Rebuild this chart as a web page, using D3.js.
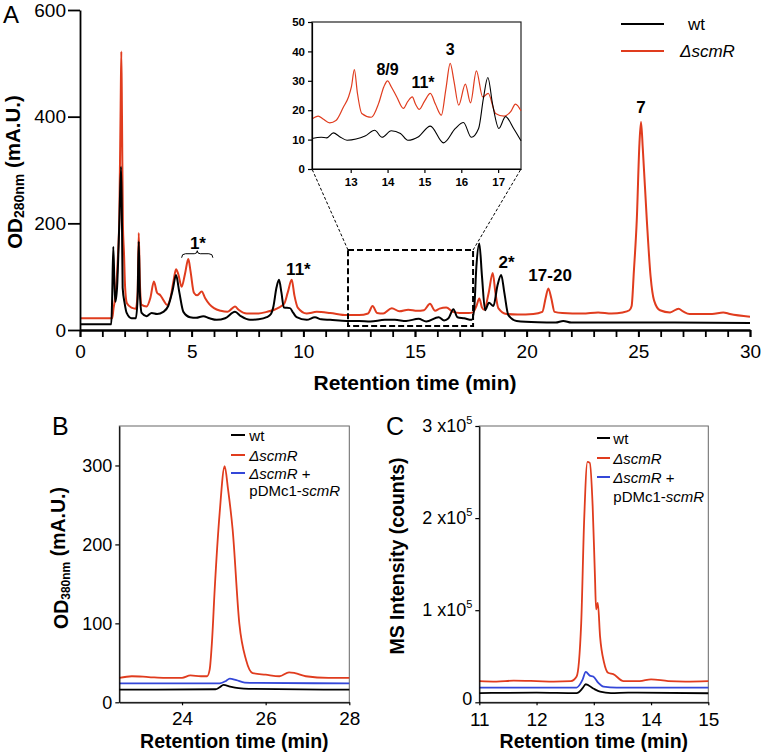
<!DOCTYPE html>
<html><head><meta charset="utf-8">
<script src="https://cdn.jsdelivr.net/npm/d3@7"></script>
<style>body{margin:0;background:#fff}svg{display:block}text{font-family:Arial,"Liberation Sans",sans-serif}</style>
</head><body><svg id="c" width="762" height="756"></svg>
<script>
// ---------- DATA ----------
// Panel A, OD280 chromatogram [time (min), mA.U.]
const aScmR = [[0,22],[1.44,22],[1.5,40],[1.6,70],[1.7,140],[1.76,210],[1.82,420],[1.85,522],[1.88,400],[1.92,200],[1.97,144],[2.02,80],[2.1,50],[2.3,42],[2.5,40],[2.58,70],[2.63,182],[2.68,90],[2.76,47],[2.98,44],[3.15,60],[3.31,91],[3.45,70],[3.6,65],[3.75,55],[3.9,47],[4.05,60],[4.2,95],[4.3,114],[4.4,105],[4.55,81],[4.7,105],[4.85,133],[4.95,110],[5.1,70],[5.25,65],[5.45,72],[5.6,60],[5.8,48],[6.0,41],[6.3,36],[6.6,34],[6.8,40],[6.94,44],[7.1,38],[7.47,31],[8.0,31],[8.36,34],[8.7,38],[8.9,42],[9.15,50],[9.3,70],[9.48,94],[9.6,65],[9.75,42],[10.15,31],[10.6,34],[11.2,32],[11.94,28],[12.5,28],[12.9,31],[13.1,45],[13.3,32],[13.58,31],[13.96,41],[14.3,35],[14.7,38],[15.1,36],[15.4,37],[15.67,49],[15.9,36],[16.1,40],[16.4,42],[16.7,34],[17.0,32],[17.4,32],[17.6,33],[17.75,45],[17.88,59],[18.0,42],[18.1,38],[18.3,70],[18.48,107],[18.6,70],[18.73,41],[19.1,30],[19.6,29],[20.3,30],[20.7,34],[20.85,60],[20.97,78],[21.1,60],[21.25,34],[21.6,32],[22.5,31],[23.2,33],[23.8,31],[24.3,33],[24.6,37],[24.7,45],[24.8,110],[24.93,206],[25.05,350],[25.12,390],[25.2,340],[25.38,206],[25.55,100],[25.7,56],[25.97,37],[26.42,33],[26.8,40],[27.0,35],[27.3,30],[28.3,30],[28.8,33],[29.1,30],[30,25]];
const aWt = [[0,11],[1.4,11],[1.44,60],[1.49,156],[1.54,90],[1.58,53],[1.66,80],[1.76,200],[1.84,306],[1.88,200],[1.91,79],[2.0,50],[2.09,32],[2.31,22],[2.5,22],[2.58,60],[2.63,166],[2.68,70],[2.76,32],[2.98,26],[3.21,32],[3.45,30],[3.73,34],[3.95,45],[4.15,75],[4.3,103],[4.45,70],[4.63,34],[4.93,24],[5.2,23],[5.52,26],[5.8,22],[6.12,19],[6.5,22],[6.94,34],[7.2,26],[7.61,19],[8.0,20],[8.36,24],[8.55,30],[8.66,44],[8.8,80],[8.91,94],[9.02,70],[9.13,42],[9.4,41],[9.55,32],[9.7,24],[10.15,19],[10.52,24],[10.8,20],[11.2,19],[11.94,17],[12.5,17],[13.0,16],[13.65,19],[14.1,19],[14.6,17],[15.16,21],[15.5,16],[16.06,24],[16.3,18],[16.5,22],[16.72,39],[16.9,24],[17.2,22],[17.54,19],[17.65,40],[17.75,120],[17.88,162],[18.0,100],[18.14,37],[18.31,51],[18.51,45],[18.7,85],[18.86,103],[19.0,70],[19.18,28],[19.55,17],[20.5,14.5],[21.3,14],[21.64,17],[22.0,14],[25.0,14],[30,13]];
// Panel A inset
const insetScmR = [[11.95,17],[12.12,18],[12.25,17],[12.43,15.7],[12.6,16.5],[12.8,21],[12.94,24.5],[13.02,28],[13.1,33.8],[13.18,26],[13.3,18.9],[13.56,17.6],[13.76,22.4],[13.9,28],[14.0,30],[14.1,28],[14.25,24.5],[14.43,20.6],[14.55,23],[14.67,24.5],[14.76,22],[14.86,20.3],[15.0,23],[15.16,25.7],[15.3,22],[15.46,18.3],[15.58,27],[15.7,35.9],[15.8,30],[15.93,21.7],[16.11,28.9],[16.25,22.5],[16.41,33.4],[16.58,24.5],[16.73,25.7],[16.93,18.9],[17.16,18],[17.34,19.5],[17.47,22.1],[17.62,19.8]];
const insetWt = [[11.95,10.4],[12.2,10.8],[12.35,10.6],[12.53,12.3],[12.7,11],[12.9,9.8],[13.39,11.2],[13.65,13.2],[13.85,10.8],[14.1,13],[14.35,12.1],[14.55,9.8],[14.84,11],[15.16,14.6],[15.52,8.9],[15.84,13.8],[16.06,15.8],[16.27,10.8],[16.47,13.8],[16.6,24],[16.72,31.1],[16.85,22],[17.02,13.8],[17.2,17.8],[17.42,13.8],[17.62,9.6]];
// Panel B, OD380
const bScmR = [[22.5,31],[22.8,33],[23.2,32],[23.6,31],[24.0,31],[24.2,34],[24.45,33],[24.6,33],[24.66,41],[24.72,80],[24.78,142],[24.9,240],[25.02,299],[25.1,270],[25.21,219],[25.37,100],[25.53,54],[25.69,37],[26.0,35],[26.33,33],[26.56,38],[26.7,37],[26.96,33],[27.5,31],[28,31]];
const bComp = [[22.5,24],[24.9,24],[25.05,27],[25.14,30],[25.3,28],[25.5,25],[25.8,24.5],[28,24]];
const bWt = [[22.5,16],[24.8,16.5],[24.9,19],[24.99,22],[25.15,20],[25.35,18],[25.6,17],[28,16]];
// Panel C, MS intensity
const cScmR = [[11.0,23000],[11.3,22500],[11.6,23500],[12.0,23000],[12.3,22500],[12.6,23000],[12.7,28000],[12.78,86000],[12.83,195000],[12.89,261000],[12.93,260000],[12.98,213000],[13.02,137000],[13.04,101000],[13.07,108000],[13.11,71000],[13.18,43000],[13.25,32000],[13.34,30500],[13.52,23000],[13.8,23000],[14.0,25000],[14.3,23000],[14.6,22500],[15.0,23000]];
const cComp = [[11,16000],[12.7,16000],[12.8,24000],[12.86,33000],[12.93,29000],[12.99,28000],[13.08,21000],[13.17,17000],[13.4,16000],[15,16000]];
const cWt = [[11,10000],[12,10500],[12.7,10000],[12.8,15000],[12.86,19600],[12.99,15000],[13.11,11500],[13.3,10000],[13.6,10500],[15,9800]];
// ticks
const aYTicks=[0,200,400,600], aXTicks=[0,5,10,15,20,25,30], aXMinor=d3.range(0,31);
const insetYTicks=[0,10,20,30,40,50], insetXTicks=[13,14,15,16,17];
const bYTicks=[0,100,200,300], bXTicks=[24,26,28];
const cYTicks=[0,100000,200000,300000], cXTicks=[11,12,13,14,15];
// annotations (data coords)
const aLabels=[{text:"1*",t:5.28,v:163},{text:"11*",t:9.78,v:114},{text:"2*",t:19.1,v:126},{text:"17-20",t:21.05,v:103},{text:"7",t:25.12,v:418}];
const insetLabels=[{text:"8/9",t:14.0,v:34},{text:"11*",t:14.96,v:29.5},{text:"3",t:15.7,v:40.5}];

// ---------- DRAW ----------
const RED="#e03c1e", BLUE="#3447d8", FONT='Arial,"Liberation Sans",sans-serif';
const fmt=d3.format("d");
const svg=d3.select("#c");
const line=(x,y)=>d3.line().x(d=>x(d[0])).y(d=>y(d[1])).curve(d3.curveMonotoneX);
function path(g,data,x,y,color,w){
  g.append("path").datum(data).attr("fill","none").attr("stroke",color).attr("stroke-width",w)
   .attr("stroke-linejoin","round").attr("d",line(x,y));
}
function style(g,size,weight,lw){
  g.attr("font-family",null).attr("font-size",null);
  g.selectAll("text").attr("font-size",size).attr("font-weight",weight).attr("fill","#000").style("font-family",FONT);
  g.selectAll("line").attr("stroke","#000").attr("stroke-width",lw);
  g.select(".domain").attr("stroke","#000").attr("stroke-width",lw);
}
function rich(sel,parts){
  parts.forEach(p=>{
    const t=sel.append("tspan").text(p.t).attr("font-size",p.size);
    if(p.dy) t.attr("dy",p.dy);
    if(p.italic) t.attr("font-style","italic");
    if(p.weight) t.attr("font-weight",p.weight);
  });
}

// ===== Panel A =====
const xA=d3.scaleLinear().domain([0,30]).range([80,750]);
const yA=d3.scaleLinear().domain([0,600]).range([330,10]);
const gA=svg.append("g");
path(gA,aScmR,xA,yA,RED,2);
path(gA,aWt,xA,yA,"#000",2);
let ax=gA.append("g").attr("transform","translate(0,330)").call(d3.axisBottom(xA).tickValues(aXMinor).tickFormat("").tickSize(7).tickSizeOuter(0));
style(ax,19,"normal",1.8);
ax=gA.append("g").attr("transform","translate(0,330)").call(d3.axisBottom(xA).tickValues(aXTicks).tickFormat(fmt).tickSize(7).tickSizeOuter(0).tickPadding(8));
style(ax,19,"normal",1.8);
ax=gA.append("g").attr("transform","translate(80,0)").call(d3.axisLeft(yA).tickValues(aYTicks).tickFormat(fmt).tickSize(12).tickSizeOuter(0).tickPadding(2));
style(ax,19,"normal",1.8);
// titles
gA.append("text").attr("x",xA(15)).attr("y",390).attr("text-anchor","middle").attr("font-size",21).attr("font-weight","bold").text("Retention time (min)");
const ytA=gA.append("text").attr("transform","translate(14,172) rotate(-90)").attr("text-anchor","middle").attr("dominant-baseline","central").attr("font-weight","bold");
rich(ytA,[{t:"OD",size:20.5},{t:"280nm",size:14,dy:"0.35em"},{t:" (mA.U.)",size:20.5,dy:"-0.35em"}]);
gA.append("text").attr("x",3).attr("y",23).attr("font-size",24).text("A");
// annotations
aLabels.forEach(l=>gA.append("text").attr("x",xA(l.t)).attr("y",yA(l.v)).attr("text-anchor","middle").attr("dominant-baseline","central").attr("font-size",17).attr("font-weight","bold").text(l.text));
// brace under 1*
{
  const x0=xA(4.55),x1=xA(5.95),xm=xA(5.25),yb=yA(143);
  gA.append("path").attr("fill","none").attr("stroke","#000").attr("stroke-width",1)
   .attr("d",`M${x0},${yb+4}Q${x0},${yb} ${x0+4},${yb}L${xm-3},${yb}Q${xm},${yb} ${xm},${yb-3}Q${xm},${yb} ${xm+3},${yb}L${x1-4},${yb}Q${x1},${yb} ${x1},${yb+4}`);
}
// dashed zoom box
const bx0=xA(12),bx1=xA(17.6),by0=yA(150),by1=yA(7.5);
gA.append("rect").attr("x",bx0).attr("y",by0).attr("width",bx1-bx0).attr("height",by1-by0).attr("fill","none").attr("stroke","#000").attr("stroke-width",2).attr("stroke-dasharray","6,3");

// inset
const xI=d3.scaleLinear().domain([11.95,17.62]).range([312,521]);
const yI=d3.scaleLinear().domain([0,50]).range([169,22]);
gA.append("line").attr("x1",bx0).attr("y1",by0).attr("x2",312).attr("y2",169).attr("stroke","#000").attr("stroke-width",1).attr("stroke-dasharray","3,2");
gA.append("line").attr("x1",bx1).attr("y1",by0).attr("x2",521).attr("y2",169).attr("stroke","#000").attr("stroke-width",1).attr("stroke-dasharray","3,2");
const gI=gA.append("g");
gI.append("rect").attr("x",312).attr("y",22).attr("width",209).attr("height",147).attr("fill","#fff").attr("stroke","#222").attr("stroke-width",1.2);
path(gI,insetScmR,xI,yI,RED,1.2);
path(gI,insetWt,xI,yI,"#000",1.1);
ax=gI.append("g").attr("transform","translate(312,0)").call(d3.axisLeft(yI).tickValues(insetYTicks).tickFormat(fmt).tickSize(4).tickSizeOuter(0).tickPadding(3));
style(ax,11.5,"bold",1.2);
ax=gI.append("g").attr("transform","translate(0,169)").call(d3.axisBottom(xI).tickValues(insetXTicks).tickFormat(fmt).tickSize(4).tickSizeOuter(0).tickPadding(5));
style(ax,11.5,"bold",1.2);
insetLabels.forEach(l=>gI.append("text").attr("x",xI(l.t)).attr("y",yI(l.v)).attr("text-anchor","middle").attr("dominant-baseline","central").attr("font-size",16).attr("font-weight","bold").text(l.text));

// legend A
const legA=[{c:"#000",parts:[{t:"wt"}],y:24},{c:RED,parts:[{t:"\u0394scmR",italic:true}],y:51}];
legA.forEach(l=>{
  gA.append("line").attr("x1",621).attr("x2",664).attr("y1",l.y).attr("y2",l.y).attr("stroke",l.c).attr("stroke-width",2);
  const t=gA.append("text").attr("x",l.parts[0].italic?680:688).attr("y",l.y).attr("dominant-baseline","central").attr("font-size",17);
  rich(t,l.parts);
});

// ===== Panels B and C =====
function panel(opt){
  const g=svg.append("g");
  const x=d3.scaleLinear().domain(opt.xd).range(opt.xr);
  const y=d3.scaleLinear().domain(opt.yd).range([702.3,426]);
  g.append("rect").attr("x",opt.xr[0]).attr("y",426).attr("width",opt.xr[1]-opt.xr[0]).attr("height",276.3).attr("fill","none").attr("stroke","#666").attr("stroke-width",1);
  path(g,opt.red,x,y,RED,1.8);
  path(g,opt.blue,x,y,BLUE,1.8);
  path(g,opt.black,x,y,"#000",1.8);
  let a=g.append("g").attr("transform",`translate(${opt.xr[0]},0)`).call(d3.axisLeft(y).tickValues(opt.yt).tickSize(4).tickSizeOuter(0).tickPadding(3).tickFormat(fmt));
  style(a,18,"normal",1.2);
  if(opt.sci){
    a.selectAll(".tick text").each(function(d){
      const s=d3.select(this);
      if(d===0){ s.attr("dy","0.1em"); return; }
      s.text(""); s.append("tspan").text((d/1e5)+" x10");
      s.append("tspan").text("5").attr("font-size",11).attr("dy","-0.75em");
    });
  }
  a=g.append("g").attr("transform","translate(0,702.3)").call(d3.axisBottom(x).tickValues(opt.xt).tickFormat(fmt).tickSize(3).tickSizeOuter(0).tickPadding(opt.xpad));
  style(a,19,"normal",1.2);
  const cx=(opt.xr[0]+opt.xr[1])/2;
  g.append("text").attr("x",cx).attr("y",748).attr("text-anchor","middle").attr("font-size",19.5).attr("font-weight","bold").text("Retention time (min)");
  const yt=g.append("text").attr("transform",`translate(${opt.ytx},${opt.yty}) rotate(-90)`).attr("text-anchor","middle").attr("dominant-baseline","central").attr("font-weight","bold");
  rich(yt,opt.ytitle);
  g.append("text").attr("x",opt.lx).attr("y",435).attr("font-size",25).text(opt.letter);
  const L=opt.leg;
  const items=[{c:"#000",y:L.y[0],parts:[{t:"wt"}]},{c:RED,y:L.y[1],parts:[{t:"\u0394scmR",italic:true}]},{c:BLUE,y:L.y[2],parts:[{t:"\u0394scmR",italic:true},{t:" +"}]}];
  items.forEach(it=>{
    g.append("line").attr("x1",L.x0).attr("x2",L.x1).attr("y1",it.y).attr("y2",it.y).attr("stroke",it.c).attr("stroke-width",2);
    const t=g.append("text").attr("x",L.tx).attr("y",it.y).attr("dominant-baseline","central").attr("font-size",15);
    rich(t,it.parts);
  });
  const t2=g.append("text").attr("x",L.tx).attr("y",L.y[3]).attr("dominant-baseline","central").attr("font-size",15);
  rich(t2,[{t:"pDMc1-"},{t:"scmR",italic:true}]);
}
panel({xd:[22.5,28],xr:[119.3,349.3],yd:[0,350],xt:bXTicks,yt:bYTicks,red:bScmR,blue:bComp,black:bWt,xpad:6,
  ytx:61,yty:558,ytitle:[{t:"OD",size:19.5},{t:"380nm",size:12,dy:"0.4em"},{t:" (mA.U.)",size:19.5,dy:"-0.4em"}],
  letter:"B",lx:52,leg:{x0:231,x1:245,tx:249.3,y:[435,455,473,490]}});
panel({xd:[11,15],xr:[479.3,708.3],yd:[0,300000],xt:cXTicks,yt:cYTicks,red:cScmR,blue:cComp,black:cWt,sci:true,xpad:7,
  ytx:397,yty:556,ytitle:[{t:"MS Intensity (counts)",size:19.5}],
  letter:"C",lx:386,leg:{x0:597,x1:610,tx:613.3,y:[438,458,477,496]}});
</script></body></html>
